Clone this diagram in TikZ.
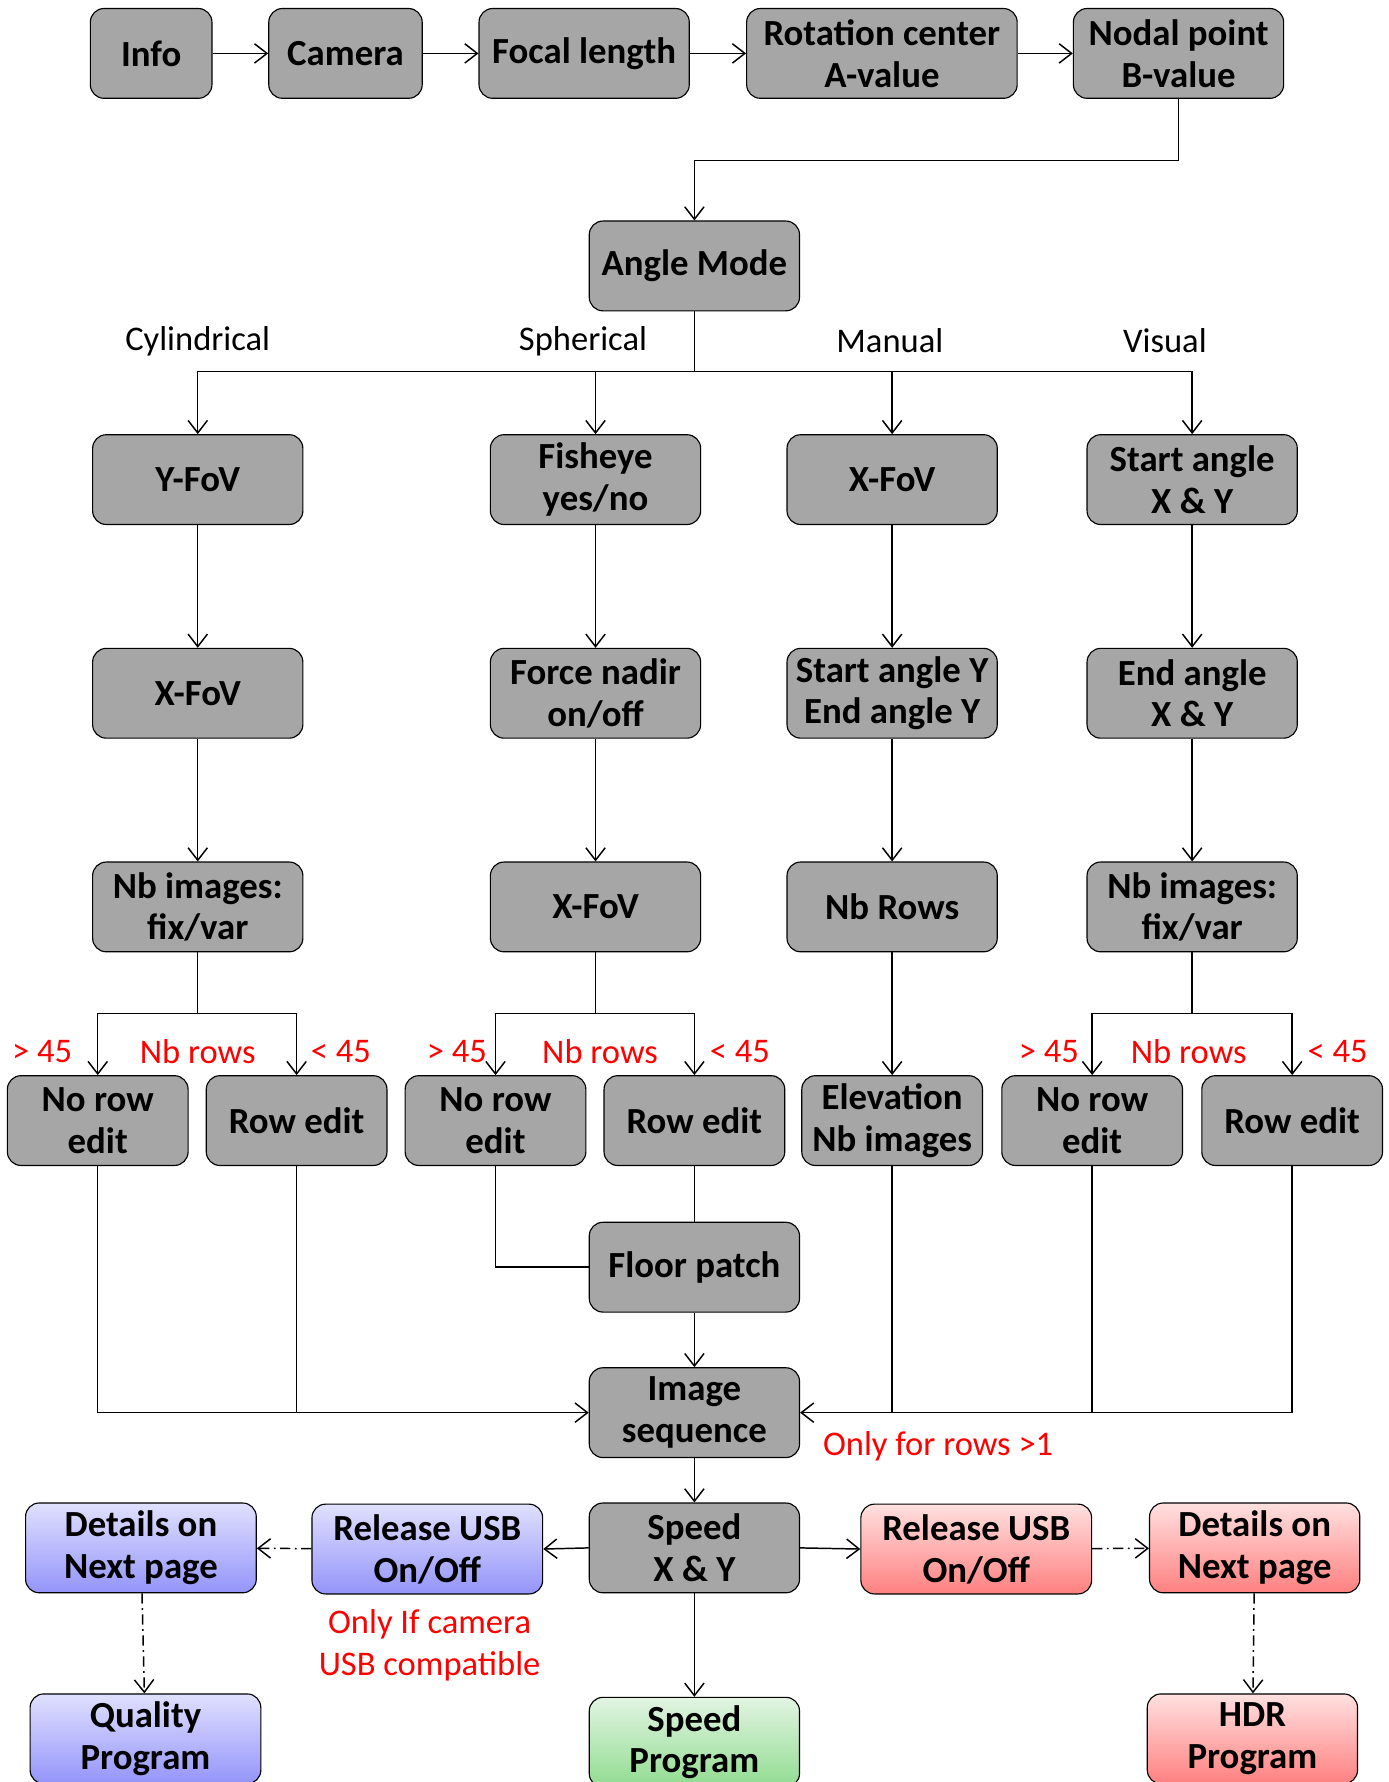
\documentclass[tikz,border=0pt]{standalone}
\usepackage{fontspec}
\setmainfont{Carlito}
\usetikzlibrary{arrows.meta}
\definecolor{boxgray}{RGB}{166,166,166}
\definecolor{bluetop}{RGB}{224,224,255}
\definecolor{bluebot}{RGB}{148,148,250}
\definecolor{redtop}{RGB}{255,224,224}
\definecolor{redbot}{RGB}{255,128,128}
\definecolor{greentop}{RGB}{226,244,226}
\definecolor{greenbot}{RGB}{145,220,145}
\definecolor{lblred}{RGB}{255,0,0}
\tikzset{
  box/.style={draw=black, line width=1bp, fill=boxgray, rounded corners=12bp,
    minimum width=185bp, minimum height=79bp, inner sep=0pt, align=center,
    font=\bfseries\fontsize{32.5}{37}\selectfont},
  sbox/.style={box, minimum width=159bp},
  bluebox/.style={box, minimum width=203bp, top color=bluetop, bottom color=bluebot},
  redbox/.style={box, minimum width=203bp, top color=redtop, bottom color=redbot},
  greenbox/.style={box, minimum width=185bp, top color=greentop, bottom color=greenbot},
  lbl/.style={inner sep=0pt, font=\fontsize{30.5}{37}\selectfont},
  rlbl/.style={lbl, text=lblred, align=center},
  conn/.style={line width=1.3bp, draw=black},
  arr/.style={conn, -{Straight Barb[length=11bp, width=17bp, line width=1.3bp]}},
  dd/.style={arr, dash pattern=on 9bp off 4bp on 1.5bp off 4bp}
}
\begin{document}
\begin{tikzpicture}[x=1bp, y=-1bp]
\useasboundingbox (0,0) rectangle (1222,1568);
% top row
\node[box, minimum width=107bp] (info) at (133,47) {Info};
\node[box, minimum width=135bp] (cam) at (304,47) {Camera};
\node[box] (focal) at (514,47) {Focal length};
\node[box, minimum width=238bp] (rot) at (776,47) {Rotation center\\A-value};
\node[box] (nodal) at (1037,47) {Nodal point\\B-value};
\node[box] (angle) at (611,234) {Angle Mode};
% mode labels
\node[lbl] (lcyl) at (174,300) {Cylindrical};
\node[lbl] (lsph) at (513,300) {Spherical};
\node[lbl] (lman) at (783,300) {Manual};
\node[lbl] (lvis) at (1025,300) {Visual};
% columns
\node[box] (c1a) at (174,422) {Y-FoV};
\node[box] (c1b) at (174,610) {X-FoV};
\node[box] (c1c) at (174,798) {Nb images:\\fix/var};
\node[box] (c2a) at (524,422) {Fisheye\\yes/no};
\node[box] (c2b) at (524,610) {Force nadir\\on/off};
\node[box] (c2c) at (524,798) {X-FoV};
\node[box] (c3a) at (785,422) {X-FoV};
\node[box] (c3b) at (785,610) {Start angle Y\\End angle Y};
\node[box] (c3c) at (785,798) {Nb Rows};
\node[box] (c4a) at (1049,422) {Start angle\\X \& Y};
\node[box] (c4b) at (1049,610) {End angle\\X \& Y};
\node[box] (c4c) at (1049,798) {Nb images:\\fix/var};
% small boxes
\node[sbox] (n1) at (86,986) {No row\\edit};
\node[sbox] (r1) at (261,986) {Row edit};
\node[sbox] (n2) at (436,986) {No row\\edit};
\node[sbox] (r2) at (611,986) {Row edit};
\node[sbox] (elev) at (785,986) {Elevation\\Nb images};
\node[sbox] (n4) at (961,986) {No row\\edit};
\node[sbox] (r4) at (1137,986) {Row edit};
% red labels
\node[rlbl] (g1) at (37,925) {> 45};
\node[rlbl] (nb1) at (174,925) {Nb rows};
\node[rlbl] (l1) at (300,925) {< 45};
\node[rlbl] (g2) at (402,925) {> 45};
\node[rlbl] (nb2) at (528,925) {Nb rows};
\node[rlbl] (l2) at (651,925) {< 45};
\node[rlbl] (g4) at (923,925) {> 45};
\node[rlbl] (nb4) at (1046,925) {Nb rows};
\node[rlbl] (l4) at (1177,925) {< 45};
% lower part
\node[box] (floor) at (611,1115) {Floor patch};
\node[box] (img) at (611,1243) {Image\\sequence};
\node[rlbl, anchor=west] (only) at (724,1273) {Only for rows >1};
\node[box] (speed) at (611,1362) {Speed\\X \& Y};
\node[bluebox] (relL) at (376,1363) {Release USB\\On/Off};
\node[bluebox] (detL) at (124,1362) {Details on\\Next page};
\node[bluebox] (qual) at (128,1530) {Quality\\Program};
\node[rlbl] (usb) at (378,1448) {Only If camera\\USB compatible};
\node[greenbox] (sprog) at (611,1533) {Speed\\Program};
\node[redbox] (relR) at (859,1363) {Release USB\\On/Off};
\node[redbox, minimum width=185bp] (detR) at (1104,1362) {Details on\\Next page};
\node[redbox, minimum width=185bp] (hdr) at (1102,1530) {HDR\\Program};
% top connectors
\draw[arr] (info) -- (cam);
\draw[arr] (cam) -- (focal);
\draw[arr] (focal) -- (rot);
\draw[arr] (rot) -- (nodal);
\draw[arr] (nodal.south) -- ++(0,54) -| (angle.north);
\coordinate (split) at (611,327);
\draw[conn] (angle.south) -- (split);
\draw[arr] (split) -| (c1a.north);
\draw[arr] (split) -| (c2a.north);
\draw[arr] (split) -| (c3a.north);
\draw[arr] (split) -| (c4a.north);
% column connectors
\foreach \c in {1,2,3,4}{
  \draw[arr] (c\c a) -- (c\c b);
  \draw[arr] (c\c b) -- (c\c c);
}
\draw[arr] (c1c.south) -- ++(0,54) -| (n1.north);
\draw[arr] (c1c.south) -- ++(0,54) -| (r1.north);
\draw[arr] (c2c.south) -- ++(0,54) -| (n2.north);
\draw[arr] (c2c.south) -- ++(0,54) -| (r2.north);
\draw[arr] (c3c) -- (elev);
\draw[arr] (c4c.south) -- ++(0,54) -| (n4.north);
\draw[arr] (c4c.south) -- ++(0,54) -| (r4.north);
% to floor patch and image sequence
\draw[conn] (n2.south) |- (floor.west);
\draw[conn] (r2.south) -- (floor.north);
\draw[arr] (floor) -- (img);
\draw[arr] (n1.south) |- (img.west);
\draw[conn] (r1.south) -- (r1.south |- img.west);
\draw[arr] (r4.south) |- (img.east);
\draw[conn] (n4.south) -- (n4.south |- img.east);
\draw[conn] (elev.south) -- (elev.south |- img.east);
% bottom
\draw[arr] (img) -- (speed);
\draw[arr] (speed.west) -- (relL.east);
\draw[arr] (speed.east) -- (relR.west);
\draw[arr] (speed) -- (sprog);
\draw[dd] (relL) -- (detL);
\draw[dd] (detL) -- (qual);
\draw[dd] (relR) -- (detR);
\draw[dd] (detR) -- (hdr);
\end{tikzpicture}
\end{document}
